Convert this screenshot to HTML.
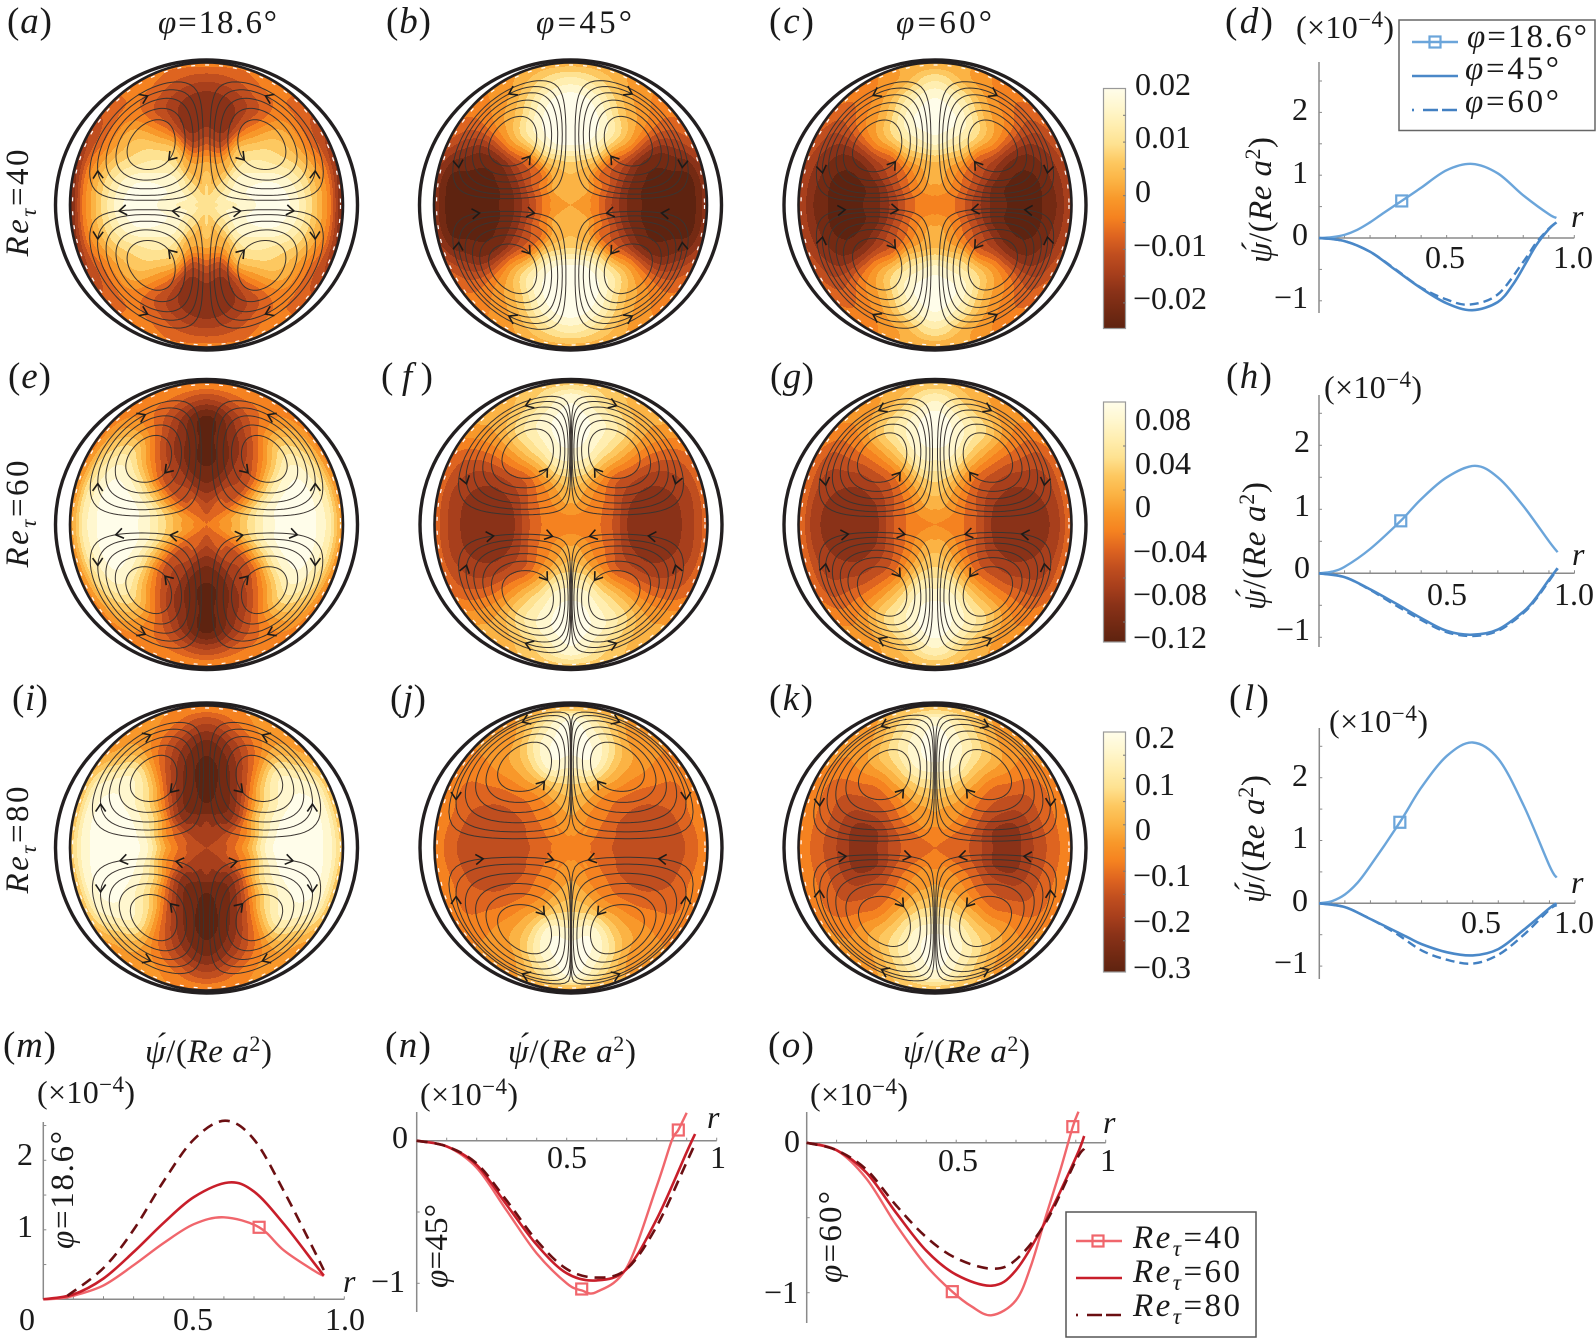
<!DOCTYPE html>
<html lang="en">
<head>
<meta charset="utf-8">
<title>Secondary flow contours and streamfunction profiles</title>
<style>
html,body{margin:0;padding:0;background:#fff;}
svg{display:block;}
text{font-family:"Liberation Serif","DejaVu Serif",serif;font-size:32px;fill:#1a1a1a;}
.i{font-style:italic;}
.lab{font-size:37px;}
.big{font-size:33px;}
</style>
</head>
<body>
<svg id="figure" xmlns="http://www.w3.org/2000/svg" width="1596" height="1339" viewBox="0 0 1596 1339">
<defs>
  <linearGradient id="cmap" x1="0" y1="0" x2="0" y2="1"></linearGradient>
</defs>
<g id="panels"></g>
<g id="plots"></g>

<g>
<text class="lab" x="7" y="33" textLength="45">(<tspan class="i">a</tspan>)</text>
<text class="lab" x="386" y="33" textLength="45">(<tspan class="i">b</tspan>)</text>
<text class="lab" x="769" y="33" textLength="45">(<tspan class="i">c</tspan>)</text>
<text class="lab" x="1225" y="33" textLength="48">(<tspan class="i">d</tspan>)</text>
<text class="lab" x="8" y="388" textLength="43">(<tspan class="i">e</tspan>)</text>
<text class="lab" x="381" y="388" textLength="52">(<tspan class="i">f</tspan>)</text>
<text class="lab" x="770" y="388" textLength="44">(<tspan class="i">g</tspan>)</text>
<text class="lab" x="1226" y="388" textLength="46">(<tspan class="i">h</tspan>)</text>
<text class="lab" x="12" y="710" textLength="36">(<tspan class="i">i</tspan>)</text>
<text class="lab" x="390" y="710" textLength="36">(<tspan class="i">j</tspan>)</text>
<text class="lab" x="769" y="710" textLength="44">(<tspan class="i">k</tspan>)</text>
<text class="lab" x="1229" y="710" textLength="40">(<tspan class="i">l</tspan>)</text>
<text class="lab" x="3" y="1057" textLength="53">(<tspan class="i">m</tspan>)</text>
<text class="lab" x="385" y="1057" textLength="46">(<tspan class="i">n</tspan>)</text>
<text class="lab" x="768" y="1057" textLength="46">(<tspan class="i">o</tspan>)</text>
</g>

<g>
<text class="big" x="158" y="33" textLength="119"><tspan class="i">φ</tspan>=18.6°</text>
<text class="big" x="536" y="33" textLength="96"><tspan class="i">φ</tspan>=45°</text>
<text class="big" x="896" y="33" textLength="96"><tspan class="i">φ</tspan>=60°</text>
</g>

<g>
<text class="big" transform="translate(28,203) rotate(-90)" text-anchor="middle" textLength="107"><tspan class="i">Re</tspan><tspan class="i" dy="8" font-size="23">τ</tspan><tspan dy="-8">=40</tspan></text>
<text class="big" transform="translate(28,514) rotate(-90)" text-anchor="middle" textLength="107"><tspan class="i">Re</tspan><tspan class="i" dy="8" font-size="23">τ</tspan><tspan dy="-8">=60</tspan></text>
<text class="big" transform="translate(28,840) rotate(-90)" text-anchor="middle" textLength="107"><tspan class="i">Re</tspan><tspan class="i" dy="8" font-size="23">τ</tspan><tspan dy="-8">=80</tspan></text>
</g>

<g>
<rect x="1103.5" y="88.5" width="22" height="240" fill="url(#cmap)" stroke="#999" stroke-width="1.2"/>
<text x="1135" y="95">0.02</text>
<text x="1135" y="148">0.01</text>
<text x="1135" y="202">0</text>
<text x="1133" y="256">−0.01</text>
<text x="1133" y="309">−0.02</text>
</g>
<g>
<rect x="1103.5" y="402" width="22" height="240" fill="url(#cmap)" stroke="#999" stroke-width="1.2"/>
<text x="1135" y="430">0.08</text>
<text x="1135" y="474">0.04</text>
<text x="1135" y="517">0</text>
<text x="1133" y="562">−0.04</text>
<text x="1133" y="605">−0.08</text>
<text x="1133" y="648">−0.12</text>
</g>
<g>
<rect x="1103.5" y="732" width="22" height="240" fill="url(#cmap)" stroke="#999" stroke-width="1.2"/>
<text x="1135" y="748">0.2</text>
<text x="1135" y="795">0.1</text>
<text x="1135" y="840">0</text>
<text x="1133" y="886">−0.1</text>
<text x="1133" y="932">−0.2</text>
<text x="1133" y="978">−0.3</text>
</g>
<g id="barticks"></g>

<g>
<text x="1296" y="38" textLength="98">(×10<tspan dy="-11" font-size="23">−4</tspan><tspan dy="11">)</tspan></text>
<text class="big" transform="translate(1271,200) rotate(-90)" text-anchor="middle" textLength="126"><tspan class="i">&#968;&#769;</tspan>/(<tspan class="i">Re a</tspan><tspan dy="-11" font-size="22">2</tspan><tspan dy="11">)</tspan></text>
<text x="1308" y="120" text-anchor="end">2</text>
<text x="1308" y="183" text-anchor="end">1</text>
<text x="1308" y="245" text-anchor="end">0</text>
<text x="1308" y="308" text-anchor="end">−1</text>
<text x="1445" y="268" text-anchor="middle">0.5</text>
<text x="1573" y="268" text-anchor="middle">1.0</text>
<text x="1571" y="227" class="i">r</text>
</g>
<g>
<text x="1324" y="398" textLength="98">(×10<tspan dy="-11" font-size="23">−4</tspan><tspan dy="11">)</tspan></text>
<text class="big" transform="translate(1265,546) rotate(-90)" text-anchor="middle" textLength="128"><tspan class="i">&#968;&#769;</tspan>/(<tspan class="i">Re a</tspan><tspan dy="-11" font-size="22">2</tspan><tspan dy="11">)</tspan></text>
<text x="1310" y="452" text-anchor="end">2</text>
<text x="1310" y="516" text-anchor="end">1</text>
<text x="1310" y="578" text-anchor="end">0</text>
<text x="1310" y="640" text-anchor="end">−1</text>
<text x="1447" y="605" text-anchor="middle">0.5</text>
<text x="1574" y="605" text-anchor="middle">1.0</text>
<text x="1572" y="565" class="i">r</text>
</g>
<g>
<text x="1329" y="732" textLength="99">(×10<tspan dy="-11" font-size="23">−4</tspan><tspan dy="11">)</tspan></text>
<text class="big" transform="translate(1264,839) rotate(-90)" text-anchor="middle" textLength="128"><tspan class="i">&#968;&#769;</tspan>/(<tspan class="i">Re a</tspan><tspan dy="-11" font-size="22">2</tspan><tspan dy="11">)</tspan></text>
<text x="1308" y="786" text-anchor="end">2</text>
<text x="1308" y="848" text-anchor="end">1</text>
<text x="1308" y="911" text-anchor="end">0</text>
<text x="1308" y="973" text-anchor="end">−1</text>
<text x="1481" y="933" text-anchor="middle">0.5</text>
<text x="1574" y="933" text-anchor="middle">1.0</text>
<text x="1571" y="893" class="i">r</text>
</g>
<g>
<text class="big" x="145" y="1062" textLength="127"><tspan class="i">&#968;&#769;</tspan>/(<tspan class="i">Re a</tspan><tspan dy="-11" font-size="22">2</tspan><tspan dy="11">)</tspan></text>
<text x="37" y="1103" textLength="98">(×10<tspan dy="-11" font-size="23">−4</tspan><tspan dy="11">)</tspan></text>
<text class="big" transform="translate(73,1190) rotate(-90)" text-anchor="middle" textLength="118"><tspan class="i">φ</tspan>=18.6°</text>
<text x="33" y="1165" text-anchor="end">2</text>
<text x="33" y="1237" text-anchor="end">1</text>
<text x="27" y="1330" text-anchor="middle">0</text>
<text x="193" y="1330" text-anchor="middle">0.5</text>
<text x="345" y="1330" text-anchor="middle">1.0</text>
<text x="343" y="1292" class="i">r</text>
</g>
<g>
<text class="big" x="508" y="1062" textLength="128"><tspan class="i">&#968;&#769;</tspan>/(<tspan class="i">Re a</tspan><tspan dy="-11" font-size="22">2</tspan><tspan dy="11">)</tspan></text>
<text x="420" y="1105" textLength="98">(×10<tspan dy="-11" font-size="23">−4</tspan><tspan dy="11">)</tspan></text>
<text class="big" transform="translate(447,1246) rotate(-90)" text-anchor="middle" textLength="84"><tspan class="i">φ</tspan>=45°</text>
<text x="408" y="1148" text-anchor="end">0</text>
<text x="405" y="1292" text-anchor="end">−1</text>
<text x="567" y="1168" text-anchor="middle">0.5</text>
<text x="718" y="1168" text-anchor="middle">1</text>
<text x="707" y="1128" class="i">r</text>
</g>
<g>
<text class="big" x="903" y="1062" textLength="127"><tspan class="i">&#968;&#769;</tspan>/(<tspan class="i">Re a</tspan><tspan dy="-11" font-size="22">2</tspan><tspan dy="11">)</tspan></text>
<text x="810" y="1105" textLength="98">(×10<tspan dy="-11" font-size="23">−4</tspan><tspan dy="11">)</tspan></text>
<text class="big" transform="translate(841,1237) rotate(-90)" text-anchor="middle" textLength="92"><tspan class="i">φ</tspan>=60°</text>
<text x="800" y="1152" text-anchor="end">0</text>
<text x="798" y="1303" text-anchor="end">−1</text>
<text x="958" y="1171" text-anchor="middle">0.5</text>
<text x="1108" y="1171" text-anchor="middle">1</text>
<text x="1103" y="1133" class="i">r</text>
</g>

<g>
<rect x="1399" y="20" width="196" height="110.5" fill="#fff" stroke="#666" stroke-width="1.5"/>
<line x1="1412" y1="42" x2="1458" y2="42" stroke="#6ba5da" stroke-width="2.4"/>
<rect x="1429.5" y="36.5" width="11" height="11" fill="#fff" fill-opacity="0" stroke="#6ba5da" stroke-width="2.2"/>
<text class="big" x="1467" y="47" textLength="120"><tspan class="i">φ</tspan>=18.6°</text>
<line x1="1412" y1="76" x2="1458" y2="76" stroke="#4a88c8" stroke-width="2.6"/>
<text class="big" x="1465" y="79" textLength="94"><tspan class="i">φ</tspan>=45°</text>
<line x1="1412" y1="110" x2="1414" y2="110" stroke="#4280c2" stroke-width="2.6"/>
<line x1="1423" y1="110" x2="1458" y2="110" stroke="#4280c2" stroke-width="2.6" stroke-dasharray="15 4"/>
<text class="big" x="1465" y="112" textLength="94"><tspan class="i">φ</tspan>=60°</text>
</g>
<g>
<rect x="1066" y="1212" width="190" height="125" fill="#fff" stroke="#555" stroke-width="1.5"/>
<line x1="1076" y1="1241" x2="1122" y2="1241" stroke="#f0666c" stroke-width="2.4"/>
<rect x="1092.5" y="1235.5" width="11" height="11" fill="none" stroke="#f0666c" stroke-width="2.2"/>
<text class="big" x="1133" y="1248" textLength="107"><tspan class="i">Re</tspan><tspan class="i" dy="8" font-size="23">τ</tspan><tspan dy="-8">=40</tspan></text>
<line x1="1076" y1="1278" x2="1122" y2="1278" stroke="#c81e2a" stroke-width="2.6"/>
<text class="big" x="1133" y="1282" textLength="107"><tspan class="i">Re</tspan><tspan class="i" dy="8" font-size="23">τ</tspan><tspan dy="-8">=60</tspan></text>
<line x1="1076" y1="1315" x2="1078" y2="1315" stroke="#6b0f12" stroke-width="2.6"/>
<line x1="1087" y1="1315" x2="1122" y2="1315" stroke="#6b0f12" stroke-width="2.6" stroke-dasharray="15 4"/>
<text class="big" x="1133" y="1316" textLength="107"><tspan class="i">Re</tspan><tspan class="i" dy="8" font-size="23">τ</tspan><tspan dy="-8">=80</tspan></text>
</g>
</svg>

<script>
/* ---------- colour bands ---------- */
const palette = ['#5e2310','#742a13','#8a3218','#a83f1c','#c04e1f','#de6420','#f58220','#f8982a','#fbb344','#fdc860','#fee291','#ffeeb0','#fff7cf','#fffdea'];

/* ---------- contour panels: band level read per radius (columns) and angle from the x-axis (rows) ---------- */
const radii = [0, 0.15, 0.3, 0.45, 0.6, 0.75, 0.9, 1];
const anglesDeg = [0, 15, 30, 45, 60, 75, 90];

const fieldA = [
 [10,11,12,13,12.6,10,6,1],
 [10,11.5,12.5,13,12,9.6,6,2],
 [10,11,12,11.5,10.2,8.2,5,3.5],
 [10,10,11,10.4,9,7.5,5.5,5],
 [10,9.5,8.4,8.5,6,4.5,5.5,6],
 [10,8.5,7.5,3.8,2,2.6,4.5,5.6],
 [10,9.5,7.5,4,2,2,4,6]];
const fieldB = [
 [7.5,6.5,3.5,1,0.3,0.3,0.3,2],
 [7.5,6.5,4,1.4,0.3,0.3,0.6,2.4],
 [7.5,7,5,3,1.6,1.7,3.4,4.8],
 [7.5,8,5.5,5.5,7,6.5,6,6],
 [7.5,8,8,10,11,9,7.5,7],
 [7.5,8,9,12.5,13,12,9.5,8],
 [7.5,8,9.5,13,13,13,10.5,8]];
const fieldC = [
 [6,5.5,3,1,0.3,0.3,1.6,3.5],
 [6,5.5,3.5,1.2,0.3,0.4,2,3.5],
 [6,6,4.5,3,1.8,1.8,3,4.5],
 [6,6.5,5.5,5,6.5,6,5,5.5],
 [6,7,7,9,10,8,6.5,6],
 [6,7.5,8,11,12.5,11,8,7.5],
 [6,7.5,8.5,12,13,12.5,10,7.5]];
const fieldE = [
 [6,7,9.5,12,13,13,11,7],
 [6,7,9,11.5,13,13,10.5,6.5],
 [6,6,6.5,8.5,11,12,9.5,6],
 [5.5,5,4,4.5,7,9.5,8,6],
 [5.5,5,3.5,3,3.5,5.5,6,6],
 [5,4,2,1,1.5,2.5,5,6.5],
 [5,3.5,1.4,0.3,0.3,0.3,4,6.5]];
const fieldF = [
 [6,6,4.5,2,2,2,3.5,5],
 [6,6,4.8,2.4,2,2.3,3.5,5],
 [6,6,5.3,3.5,3,3.5,4.5,5.5],
 [6,6.5,6,5,6,6.5,7,7.5],
 [6,7,7,8,9.5,10,8.5,8],
 [6,7.5,8.5,11,12,12,10,9],
 [6,7.5,9,11.5,13,13,12,9]];
const fieldG = [
 [6.5,6,4.5,2,1.8,1.8,3.2,5.5],
 [6.5,6,4.7,2.4,2,2.3,3.5,5.5],
 [6.5,6.5,5,3.5,3,3.5,4,5.5],
 [6.5,7,6,5,5.5,6,6,6.5],
 [6.5,7.5,7.5,8,9,9.5,7.5,7],
 [6.5,8,9,11,12,11.5,9,8],
 [6.5,8,9.5,11.5,13,13,11,8.5]];
const fieldI = [
 [3.5,4.5,7.5,12,13,13,12,9],
 [3.5,4.5,6.5,11,13,13,12,8.5],
 [3.5,4,5.5,9.5,11.5,12.5,11.5,8.5],
 [3.5,3,3,6,9.5,11,8.5,7],
 [3.5,3,1.5,2.5,4.5,6,7,7],
 [3.5,2.5,1,0.8,1.4,3,5.5,6.5],
 [3.5,3,0.6,0.3,0.3,1.4,4,6.5]];
const fieldJ = [
 [6,5.5,4.5,4,4,4,5,6.5],
 [6,5.5,4.7,4,4,4.2,5.5,6.5],
 [6,6,5,4.5,4.5,5,5.5,6.5],
 [6,6.5,6,5.5,6,6.5,6.5,6.5],
 [6,6.5,6.5,7,8.5,8.5,7,7],
 [6,7,7.5,9,12,12,10,8],
 [6,7,8,9.5,12,13,12.5,8]];
const fieldK = [
 [5.3,5.3,4,2.3,2.3,3.8,5.3,6.5],
 [5.3,5.3,4.2,2.4,2.4,4,5.5,6.5],
 [5.3,5.3,5,4,4,4.5,5.5,6.5],
 [5.5,6,6,5.5,5.5,6.5,6.5,7],
 [5.5,6.5,7,7.5,8.5,9,7.5,7],
 [5.5,6.5,7.5,9.5,11.5,11.5,10,8.5],
 [5.5,6.5,8,10,12.5,13,12,8.5]];

/* vortex centre per panel, as fractions of the disk radius */
const vortexA = [0.41, 0.43];
const vortexB = [0.43, 0.456];
const vortexC = [0.43, 0.42];
const vortexE = [0.43, 0.47];
const vortexF = [0.31, 0.51];
const vortexG = [0.39, 0.48];
const vortexI = [0.39, 0.50];
const vortexJ = [0.335, 0.59];
const vortexK = [0.37, 0.53];

/* streamline levels as fractions of the peak stream value */
const levelsFive = [0.3, 0.45, 0.6, 0.75, 0.88];
const levelsSix = [0.28, 0.4, 0.52, 0.65, 0.76, 0.87];
const levelsJ = [0.1, 0.2, 0.35, 0.52, 0.68, 0.83];
const levelsK = [0.15, 0.25, 0.38, 0.53, 0.69, 0.85];

/* ---------- profile plots ---------- */
const xTicks = [0.1,0.2,0.3,0.4,0.5,0.6,0.7,0.8,0.9,1];
const sideYTicks = [-1,-0.5,0.5,1,1.5,2,2.5];
const mYTicks = [0.5,1,1.5,2,2.5];
const nYTicks = [-1,-0.5];
const oYTicks = [-1,-0.5];

const rD186 = [0,0.05,0.1,0.15,0.2,0.25,0.324,0.4,0.5,0.6,0.7,0.8,0.9,0.93];
const psiD186 = [0,0.012,0.05,0.13,0.25,0.39,0.59,0.8,1.08,1.18,1.03,0.68,0.38,0.32];
const rD45 = [0,0.1,0.2,0.3,0.4,0.5,0.6,0.7,0.76,0.81,0.85,0.9,0.93];
const psiD45 = [0,-0.05,-0.22,-0.51,-0.8,-1.04,-1.15,-1.02,-0.74,-0.4,-0.12,0.14,0.25];
const rD60 = [0,0.1,0.2,0.3,0.4,0.5,0.59,0.7,0.8,0.85,0.9,0.93];
const psiD60 = [0,-0.05,-0.22,-0.5,-0.79,-0.98,-1.06,-0.9,-0.38,-0.08,0.15,0.25];

const rH186 = [0,0.05,0.1,0.2,0.32,0.4,0.5,0.61,0.7,0.8,0.9,0.934];
const psiH186 = [0,0.025,0.1,0.38,0.82,1.16,1.5,1.68,1.5,1.05,0.5,0.33];
const rH45 = [0,0.1,0.2,0.3,0.4,0.5,0.6,0.7,0.8,0.85,0.9,0.934];
const psiH45 = [0,-0.06,-0.25,-0.47,-0.7,-0.9,-0.96,-0.88,-0.6,-0.38,-0.1,0.08];
const rH60 = [0,0.1,0.2,0.3,0.4,0.5,0.6,0.7,0.8,0.85,0.9,0.934];
const psiH60 = [0,-0.06,-0.26,-0.5,-0.73,-0.92,-0.98,-0.9,-0.62,-0.4,-0.12,0.07];

const rL186 = [0,0.05,0.1,0.15,0.2,0.315,0.4,0.5,0.6,0.7,0.8,0.9,0.928];
const psiL186 = [0,0.035,0.14,0.33,0.6,1.29,1.85,2.35,2.56,2.3,1.55,0.6,0.41];
const rL45 = [0,0.1,0.2,0.34,0.4,0.5,0.6,0.7,0.8,0.9,0.928];
const psiL45 = [0,-0.06,-0.25,-0.53,-0.65,-0.78,-0.83,-0.73,-0.42,-0.08,0];
const rL60 = [0,0.1,0.2,0.3,0.4,0.5,0.6,0.7,0.8,0.9,0.928];
const psiL60 = [0,-0.06,-0.25,-0.48,-0.75,-0.9,-0.96,-0.82,-0.5,-0.1,-0.03];

const rM40 = [0,0.05,0.1,0.2,0.3,0.4,0.5,0.6,0.717,0.8,0.9,0.932];
const psiM40 = [0,0.012,0.05,0.2,0.49,0.81,1.08,1.18,1.036,0.7,0.41,0.336];
const rM60 = [0,0.1,0.2,0.3,0.4,0.5,0.615,0.7,0.8,0.9,0.932];
const psiM60 = [0,0.07,0.3,0.68,1.1,1.47,1.68,1.55,1.08,0.52,0.34];
const rM80 = [0.08,0.2,0.3,0.4,0.5,0.604,0.7,0.8,0.9,0.932];
const psiM80 = [0.05,0.45,1,1.7,2.3,2.57,2.3,1.55,0.7,0.42];

const rN40 = [0,0.1,0.2,0.3,0.4,0.5,0.55,0.6,0.7,0.8,0.85,0.872,0.9];
const psiN40 = [0,-0.04,-0.19,-0.49,-0.79,-1,-1.05,-1.06,-0.89,-0.32,0,0.075,0.196];
const rN60 = [0,0.1,0.2,0.3,0.4,0.5,0.6,0.7,0.8,0.9,0.928];
const psiN60 = [0,-0.04,-0.17,-0.45,-0.73,-0.93,-0.98,-0.9,-0.55,-0.08,0.047];
const rN80 = [0,0.1,0.2,0.3,0.4,0.5,0.6,0.7,0.8,0.9,0.928];
const psiN80 = [0,-0.04,-0.16,-0.42,-0.7,-0.9,-0.96,-0.9,-0.6,-0.15,-0.02];

const rO40 = [0,0.1,0.2,0.3,0.4,0.487,0.55,0.619,0.7,0.75,0.8,0.85,0.89,0.909];
const psiO40 = [0,-0.05,-0.24,-0.55,-0.82,-0.993,-1.09,-1.15,-1.05,-0.82,-0.49,-0.17,0.107,0.207];
const rO60 = [0,0.1,0.2,0.3,0.4,0.5,0.619,0.7,0.8,0.9,0.928];
const psiO60 = [0,-0.05,-0.2,-0.47,-0.72,-0.88,-0.953,-0.85,-0.52,-0.1,0.045];
const rO80 = [0,0.1,0.2,0.3,0.4,0.5,0.619,0.7,0.8,0.9,0.928];
const psiO80 = [0,-0.05,-0.18,-0.42,-0.63,-0.77,-0.84,-0.78,-0.53,-0.12,-0.04];

const markerD = [0.324, 0.59];
const markerH = [0.32, 0.82];
const markerL = [0.315, 1.29];
const markerM = [0.717, 1.036];
const markerNLow = [0.55, -1.04];
const markerNHigh = [0.872, 0.075];
const markerOLow = [0.487, -0.993];
const markerOHigh = [0.89, 0.107];

/* ---------- helpers ---------- */
const NS = 'http://www.w3.org/2000/svg';
const panelsLayer = document.getElementById('panels');
const plotsLayer = document.getElementById('plots');
const barTicksLayer = document.getElementById('barticks');
const defs = document.querySelector('defs');
const grad = document.getElementById('cmap');

function make(tag, parent, attrs) {
  const el = document.createElementNS(NS, tag);
  for (const k in attrs) el.setAttribute(k, attrs[k]);
  parent.appendChild(el);
  return el;
}

for (let i = palette.length - 1; i >= 0; i--) {
  const stop = make('stop', grad, {offset: (1 - i / (palette.length - 1)) * 100 + '%', 'stop-color': palette[i]});
  
  
}

function catmull(a, b, c, d, t) {
  return 0.5 * (2 * b + (c - a) * t + (2 * a - 5 * b + 4 * c - d) * t * t + (3 * b - a - 3 * c + d) * t * t * t);
}
function radiusIndex(r) {
  for (let i = 0; i < radii.length - 1; i++) {
    if (r <= radii[i + 1]) return i + (r - radii[i]) / (radii[i + 1] - radii[i]);
  }
  return radii.length - 1;
}
function fieldValue(field, nx, ny) {
  const ax = Math.abs(nx), ay = Math.abs(ny);
  const r = Math.sqrt(ax * ax + ay * ay);
  const deg = Math.atan2(ay, ax) * 180 / Math.PI;
  const step = anglesDeg[1] - anglesDeg[0];
  const ti = Math.min(deg / step, anglesDeg.length - 1.0001);
  const ri = Math.min(radiusIndex(r), radii.length - 1.0001);
  const t0 = Math.floor(ti), r0 = Math.floor(ri);
  const tf = ti - t0, rf = ri - r0;
  const nT = anglesDeg.length, nR = radii.length;
  const row = k => { const m = k < 0 ? -k : (k >= nT ? 2 * (nT - 1) - k : k); return field[m]; };
  const col = k => (k < 0 ? -k : Math.min(k, nR - 1));
  const vals = [];
  for (let j = -1; j <= 2; j++) {
    const rw = row(t0 + j);
    vals.push(catmull(rw[col(r0 - 1)], rw[col(r0)], rw[col(r0 + 1)], rw[col(r0 + 2)], rf));
  }
  return catmull(vals[0], vals[1], vals[2], vals[3], tf);
}

/* stream value: zero on the axes and at the wall, peaks at the vortex centre */
function streamFor(vortex) {
  const s = 2 / (1 - vortex[0] * vortex[0] - vortex[1] * vortex[1]);
  const p = vortex[0] * vortex[0] * s, q = vortex[1] * vortex[1] * s;
  const f = (x, y) => (x <= 0 || y <= 0 || x * x + y * y >= 1) ? 0 : Math.pow(x, p) * Math.pow(y, q) * (1 - x * x - y * y);
  return {f: f, peak: f(vortex[0], vortex[1])};
}
function loopPoint(stream, vortex, level, angle) {
  const c = Math.cos(angle), s = Math.sin(angle);
  let lo = 0, hi = 0.02;
  const target = level * stream.peak;
  while (hi < 1.6 && stream.f(vortex[0] + c * hi, vortex[1] + s * hi) > target) hi += 0.02;
  lo = Math.max(0, hi - 0.02);
  for (let i = 0; i < 22; i++) {
    const m = (lo + hi) / 2;
    if (stream.f(vortex[0] + c * m, vortex[1] + s * m) > target) lo = m; else hi = m;
  }
  return [vortex[0] + c * lo, vortex[1] + s * lo];
}

/* loop index, angle round the vortex, and whether the arrow sits on the axis (drawn once per side) */
const arrowSpots = [[0, -112, true], [0, -58, true], [1, -25, false], [1, 85, false], [-1, -140, false]];

function drawPanel(name, field, vortex, levels, spin, cx, cy) {
  const diskRx = 134, diskRy = 140, edgeRx = 136.5, edgeRy = 142.5, ringRx = 151, ringRy = 145;
  const group = make('g', panelsLayer, {});
  
  

  const clip = make('clipPath', defs, {id: 'clip-' + name});
  
  
  make('ellipse', clip, {cx: cx, cy: cy, rx: edgeRx, ry: edgeRy});

  /* filled contour bands, one path per level */
  const bands = palette.map(() => []);
  const top = Math.floor(cy - edgeRy) - 1, bottom = Math.ceil(cy + edgeRy) + 1;
  for (let y = top; y < bottom; y++) {
    const ny = (cy - (y + 0.5)) / edgeRy;
    const half = 1 - ny * ny;
    if (half < -0.02) continue;
    const w = Math.sqrt(Math.max(half, 0)) * edgeRx + 2;
    const x0 = Math.floor(cx - w), x1 = Math.ceil(cx + w);
    let runStart = x0, runBand = -1;
    for (let x = x0; x <= x1; x++) {
      let band = -2;
      if (x < x1) {
        const nx = (x + 0.5 - cx) / edgeRx;
        const raw = Math.sqrt(nx * nx + ny * ny);
        const scale = raw > 1 ? 1 / raw : 1;
        const v = fieldValue(field, nx * scale, ny * scale);
        band = Math.max(0, Math.min(palette.length - 1, Math.round(v)));
      }
      if (band !== runBand) {
        if (runBand >= 0) bands[runBand].push('M' + runStart + ' ' + y + 'h' + (x - runStart) + 'v1h' + (runStart - x) + 'z');
        runStart = x;
        runBand = band;
      }
    }
  }
  const fill = make('g', group, {'clip-path': 'url(#clip-' + name + ')'});
  
  
  bands.forEach((runs, i) => {
    if (!runs.length) return;
    const band = make('path', fill, {d: runs.join(''), fill: palette[i], 'shape-rendering': 'crispEdges'});
    
    
  });

  const dashes = make('ellipse', group, {cx: cx, cy: cy, rx: diskRx, ry: diskRy, fill: 'none', stroke: '#fff', 'stroke-width': 1.2, 'stroke-dasharray': '4 10'});
  
  

  /* streamlines, mirrored into the four quadrants */
  const stream = streamFor(vortex);
  const toPx = (pt, sx, sy) => [cx + sx * pt[0] * diskRx, cy - sy * pt[1] * diskRy];
  const signs = [[1, 1], [-1, 1], [1, -1], [-1, -1]];
  signs.forEach(sg => {
    levels.forEach(level => {
      let d = '';
      for (let k = 0; k < 96; k++) {
        const pt = toPx(loopPoint(stream, vortex, level, k / 96 * 2 * Math.PI), sg[0], sg[1]);
        d += (k ? 'L' : 'M') + pt[0].toFixed(1) + ' ' + pt[1].toFixed(1);
      }
      const line = make('path', group, {d: d + 'Z', fill: 'none', stroke: '#3a3430', 'stroke-width': 1});
      
      
    });
    arrowSpots.forEach(spot => {
      if (spot[2] && sg[1] > 0) return;
      const level = levels[spot[0] < 0 ? levels.length - 1 : spot[0]];
      const a = spot[1] * Math.PI / 180;
      const p1 = toPx(loopPoint(stream, vortex, level, a), sg[0], sg[1]);
      const p2 = toPx(loopPoint(stream, vortex, level, a + spin * 0.08), sg[0], sg[1]);
      const dir = Math.atan2(p2[1] - p1[1], p2[0] - p1[0]);
      const len = 9, wing = 0.6;
      const b1 = [p1[0] - len * Math.cos(dir - wing), p1[1] - len * Math.sin(dir - wing)];
      const b2 = [p1[0] - len * Math.cos(dir + wing), p1[1] - len * Math.sin(dir + wing)];
      const head = make('path', group, {d: 'M' + b1[0].toFixed(1) + ' ' + b1[1].toFixed(1) + 'L' + p1[0].toFixed(1) + ' ' + p1[1].toFixed(1) + 'L' + b2[0].toFixed(1) + ' ' + b2[1].toFixed(1), fill: 'none', stroke: '#1c1a18', 'stroke-width': 1.6});
      
      
    });
  });

  const edge = make('ellipse', group, {cx: cx, cy: cy, rx: edgeRx, ry: edgeRy, fill: 'none', stroke: '#231f20', 'stroke-width': 2.6});
  
  
  const ring = make('ellipse', group, {cx: cx, cy: cy, rx: ringRx, ry: ringRy, fill: 'none', stroke: '#231f20', 'stroke-width': 3.4});
  
  
}

drawPanel('a', fieldA, vortexA, levelsFive, 1, 206.5, 205);
drawPanel('b', fieldB, vortexB, levelsSix, -1, 570.5, 205);
drawPanel('c', fieldC, vortexC, levelsSix, -1, 935, 205);
drawPanel('e', fieldE, vortexE, levelsFive, 1, 206.5, 524.5);
drawPanel('f', fieldF, vortexF, levelsSix, -1, 571, 524.5);
drawPanel('g', fieldG, vortexG, levelsSix, -1, 935, 524.5);
drawPanel('i', fieldI, vortexI, levelsFive, 1, 206.5, 848);
drawPanel('j', fieldJ, vortexJ, levelsJ, -1, 571, 848);
drawPanel('k', fieldK, vortexK, levelsK, -1, 935, 848);

/* colourbar ticks */
function barTicks(name, top, count, gap) {
  for (let i = 1; i <= count; i++) {
    const tick = make('line', barTicksLayer, {x1: 1123, x2: 1125.5, y1: top + i * gap, y2: top + i * gap, stroke: '#777', 'stroke-width': 1});
    
    
  }
}
barTicks('1', 88.5, 8, 26.8);
barTicks('2', 402, 5, 44);
barTicks('3', 732, 9, 23.2);

/* ---------- line plots ---------- */
function axesFor(x0, xUnit, y0, yUnit) {
  return {x: r => x0 + r * xUnit, y: v => y0 - v * yUnit, x0: x0, y0: y0, xUnit: xUnit};
}
function drawAxes(name, ax, yTop, yBottom, yTicks) {
  const g = make('g', plotsLayer, {});
  
  
  const yAxis = make('line', g, {x1: ax.x0, x2: ax.x0, y1: yTop, y2: yBottom, stroke: '#8a8a8a', 'stroke-width': 1.5});
  
  
  const xAxis = make('line', g, {x1: ax.x0, x2: ax.x(1), y1: ax.y0, y2: ax.y0, stroke: '#8a8a8a', 'stroke-width': 1.5});
  
  
  xTicks.forEach(t => {
    const tk = make('line', g, {x1: ax.x(t), x2: ax.x(t), y1: ax.y0, y2: ax.y0 - 3, stroke: '#8a8a8a', 'stroke-width': 1});
    
    
  });
  yTicks.forEach(t => {
    const tk = make('line', g, {x1: ax.x0, x2: ax.x0 + 3, y1: ax.y(t), y2: ax.y(t), stroke: '#8a8a8a', 'stroke-width': 1});
    
    
  });
}
function drawCurve(name, ax, rs, vals, color, width, dash) {
  const pts = rs.map((r, i) => [ax.x(r), ax.y(vals[i])]);
  let d = 'M' + pts[0][0].toFixed(1) + ' ' + pts[0][1].toFixed(1);
  for (let i = 0; i < pts.length - 1; i++) {
    const p0 = pts[Math.max(i - 1, 0)], p1 = pts[i], p2 = pts[i + 1], p3 = pts[Math.min(i + 2, pts.length - 1)];
    const c1 = [p1[0] + (p2[0] - p0[0]) / 6, p1[1] + (p2[1] - p0[1]) / 6];
    const c2 = [p2[0] - (p3[0] - p1[0]) / 6, p2[1] - (p3[1] - p1[1]) / 6];
    d += 'C' + c1[0].toFixed(1) + ' ' + c1[1].toFixed(1) + ' ' + c2[0].toFixed(1) + ' ' + c2[1].toFixed(1) + ' ' + p2[0].toFixed(1) + ' ' + p2[1].toFixed(1);
  }
  const attrs = {d: d, fill: 'none', stroke: color, 'stroke-width': width};
  if (dash) attrs['stroke-dasharray'] = dash;
  const line = make('path', plotsLayer, attrs);
  
  
}
function drawMarker(name, ax, pt, color) {
  const size = 11;
  const m = make('rect', plotsLayer, {x: ax.x(pt[0]) - size / 2, y: ax.y(pt[1]) - size / 2, width: size, height: size, fill: 'none', stroke: color, 'stroke-width': 2.2});
  
  
}

const blueLight = '#6ba5da', blueMid = '#4a88c8', blueDark = '#4280c2';
const redLight = '#f0666c', redMid = '#c81e2a', redDark = '#6b0f12';

const axD = axesFor(1319, 255.3, 238, 62.8);
drawAxes('d', axD, 62, 313, sideYTicks);
drawCurve('d-phi-18-6', axD, rD186, psiD186, blueLight, 2.4);
drawCurve('d-phi-60', axD, rD60, psiD60, blueDark, 2.4, '9 5');
drawCurve('d-phi-45', axD, rD45, psiD45, blueMid, 2.6);
drawMarker('d', axD, markerD, blueLight);

const axH = axesFor(1319, 255.5, 573.3, 64);
drawAxes('h', axH, 395, 647, sideYTicks);
drawCurve('h-phi-18-6', axH, rH186, psiH186, blueLight, 2.4);
drawCurve('h-phi-60', axH, rH60, psiH60, blueDark, 2.4, '9 5');
drawCurve('h-phi-45', axH, rH45, psiH45, blueMid, 2.6);
drawMarker('h', axH, markerH, blueLight);

const axL = axesFor(1319.3, 255.7, 903.3, 62.8);
drawAxes('l', axL, 728, 979, sideYTicks);
drawCurve('l-phi-18-6', axL, rL186, psiL186, blueLight, 2.4);
drawCurve('l-phi-60', axL, rL60, psiL60, blueDark, 2.4, '9 5');
drawCurve('l-phi-45', axL, rL45, psiL45, blueMid, 2.6);
drawMarker('l', axL, markerL, blueLight);

const axM = axesFor(43.3, 301, 1299.3, 69.5);
drawAxes('m', axM, 1122, 1299.3, mYTicks);
drawCurve('m-re-40', axM, rM40, psiM40, redLight, 2.4);
drawCurve('m-re-60', axM, rM60, psiM60, redMid, 2.6);
drawCurve('m-re-80', axM, rM80, psiM80, redDark, 2.6, '11 7');
drawMarker('m', axM, markerM, redLight);

const axN = axesFor(416.7, 300, 1140.7, 142.6);
drawAxes('n', axN, 1112, 1312, nYTicks);
drawCurve('n-re-40', axN, rN40, psiN40, redLight, 2.4);
drawCurve('n-re-60', axN, rN60, psiN60, redMid, 2.6);
drawCurve('n-re-80', axN, rN80, psiN80, redDark, 2.6, '11 7');
drawMarker('n-low', axN, markerNLow, redLight);
drawMarker('n-high', axN, markerNHigh, redLight);

const axO = axesFor(806.7, 299, 1142.7, 150);
drawAxes('o', axO, 1112, 1323, oYTicks);
drawCurve('o-re-40', axO, rO40, psiO40, redLight, 2.4);
drawCurve('o-re-60', axO, rO60, psiO60, redMid, 2.6);
drawCurve('o-re-80', axO, rO80, psiO80, redDark, 2.6, '11 7');
drawMarker('o-low', axO, markerOLow, redLight);
drawMarker('o-high', axO, markerOHigh, redLight);
</script>
</body>
</html>
